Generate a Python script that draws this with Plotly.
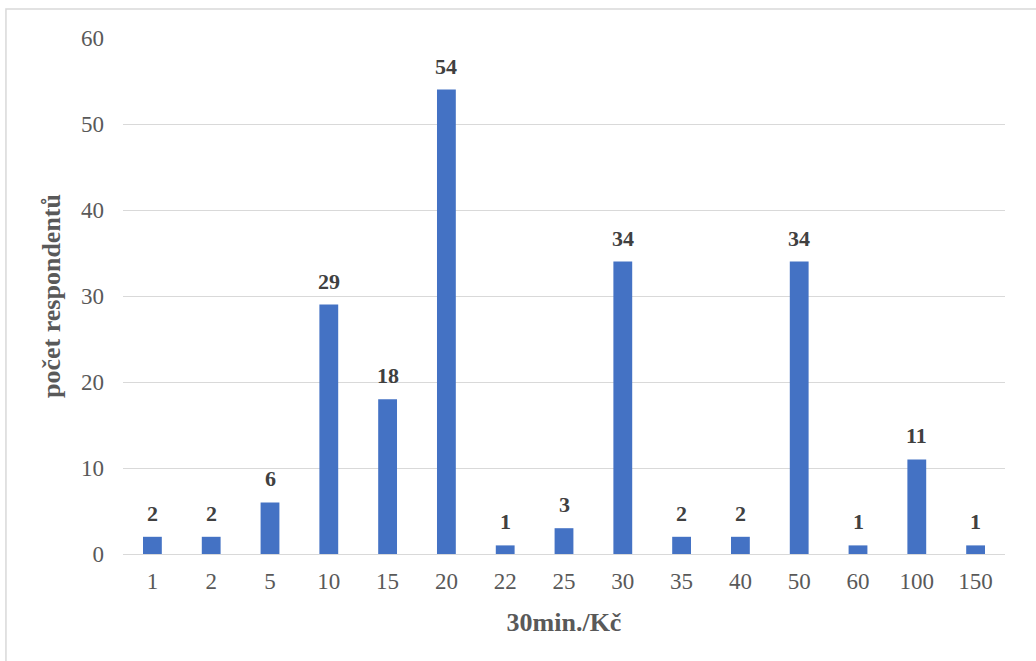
import plotly.graph_objects as go

categories = ["1", "2", "5", "10", "15", "20", "22", "25", "30", "35", "40", "50", "60", "100", "150"]
values = [2, 2, 6, 29, 18, 54, 1, 3, 34, 2, 2, 34, 1, 11, 1]
y_ticks = [0, 10, 20, 30, 40, 50, 60]

FONT = "Liberation Serif"

fig = go.Figure(go.Bar(
    x=categories, y=values,
    marker=dict(color="#4472C4", line=dict(width=0)),
))

# category axis positions are the category indices
for i, v in enumerate(values):
    fig.add_annotation(x=i, y=v, text=f"<b>{v}</b>", showarrow=False,
                       yanchor="bottom", yshift=9,
                       font=dict(family=FONT, size=22, color="#404040"))

fig.update_layout(
    width=1036, height=661,
    margin=dict(l=123, r=31, t=38, b=107, autoexpand=False),
    paper_bgcolor="white", plot_bgcolor="white",
    bargap=0.68,
    showlegend=False,
    font=dict(family=FONT, color="#595959"),
    xaxis=dict(
        type="category",
        categoryorder="array", categoryarray=categories,
        tickfont=dict(family=FONT, size=23, color="#595959"),
        title=dict(text="<b>30min./Kč</b>", font=dict(family=FONT, size=26, color="#595959"), standoff=20),
        showgrid=False, showline=True, linecolor="#d9d9d9", linewidth=1,
        ticks="", ticklen=0, automargin=False, ticklabelstandoff=6,
    ),
    yaxis=dict(
        range=[0, 60], tickvals=y_ticks,
        tickfont=dict(family=FONT, size=23, color="#595959"),
        title=dict(text="<b>počet respondentů</b>", font=dict(family=FONT, size=26, color="#595959"), standoff=12),
        showgrid=True, gridcolor="#d9d9d9", gridwidth=1,
        zeroline=False, showline=False, ticks="", ticklabelstandoff=18, automargin=False,
    ),
)

fig.add_shape(type="rect", xref="paper", yref="paper",
              x0=-0.1327, y0=-0.4, x1=1.2, y1=1.056,
              line=dict(color="#d9d9d9", width=1.5), fillcolor="rgba(0,0,0,0)", layer="below")

fig.write_html("out.html", config={"displayModeBar": False},
               post_script="document.body.style.margin='0';document.body.style.padding='0';")
